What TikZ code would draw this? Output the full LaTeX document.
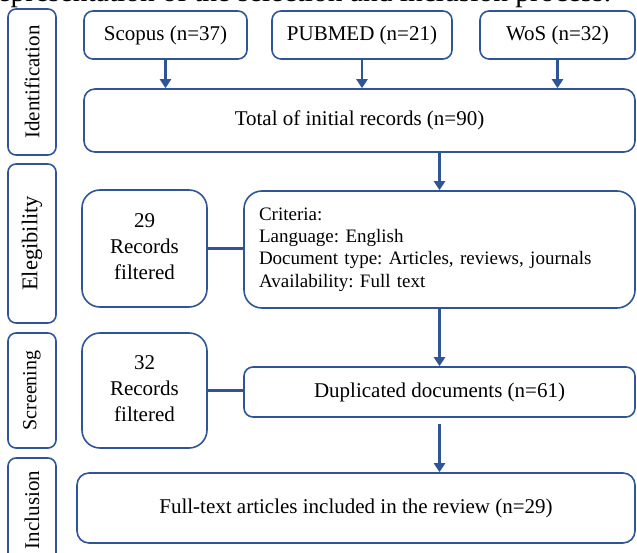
\documentclass[tikz,border=0pt]{standalone}
\usepackage{fontspec}
\setmainfont{Liberation Serif}
\usetikzlibrary{arrows.meta}
\definecolor{prismablue}{RGB}{47,85,151}
\frenchspacing

\begin{document}
\begin{tikzpicture}[x=1pt,y=1pt]
        \tikzstyle{every node}=[rectangle, rounded corners=9pt, draw=prismablue, line width=1.6pt, inner sep=0pt, font=\fontsize{21}{26}\selectfont, text=black]
        \tikzstyle{stage}=[rounded corners=8pt, minimum height=48pt, rotate=90]
        \tikzstyle{edge}=[prismablue, line width=2.4pt, -{Triangle[length=9pt,width=11pt]}]
        \tikzstyle{link}=[prismablue, line width=2.4pt]

        \useasboundingbox (0,0) rectangle (637,552);
        \clip (0,0) rectangle (637,552);

        % caption cut by the frame
        \node[draw=none, anchor=base east, font=\fontsize{29.5}{30}\selectfont] (caption) at (612,550) {representation of the selection and inclusion process.};

        \node[stage, minimum width=146pt] (ident)  at (32,470)   {Identification};
        \node[stage, minimum width=159pt, font=\fontsize{22.5}{26}\selectfont] (elig) at (32,308.5) {Elegibility};
        \node[stage, minimum width=115pt, font=\fontsize{20}{26}\selectfont] (screen) at (32,161.5) {Screening};
        \node[stage, minimum width=104pt] (incl)   at (32,42)    {Inclusion};

        \node[minimum width=163pt, minimum height=48pt] (scopus) at (165.5,517) {Scopus (n=37)};
        \node[minimum width=180pt, minimum height=48pt] (pubmed) at (362,517)   {PUBMED (n=21)};
        \node[minimum width=155pt, minimum height=48pt] (wos)    at (557.5,517) {WoS (n=32)};
        \node[minimum width=551pt, minimum height=63pt, rounded corners=11pt] (total) at (359.5,431.5) {Total of initial records (n=90)};

        \node[minimum width=125pt, minimum height=117pt, rounded corners=18pt] (rec29) at (144.5,303.5) {\begin{tabular}{c} 29 \\ Records \\ filtered \end{tabular}};
        \node[minimum width=391pt, minimum height=117pt, rounded corners=18pt, inner xsep=15pt, text width=361pt, align=left, font=\fontsize{19}{22.3}\selectfont] (crit) at (439.5,302.5) {Criteria:\\ Language: English\\ Document type: Articles, reviews, journals\\ Availability: Full text};

        \node[minimum width=125pt, minimum height=115pt, rounded corners=18pt] (rec32) at (144.5,161.5) {\begin{tabular}{c} 32 \\ Records \\ filtered \end{tabular}};
        \node[minimum width=391pt, minimum height=50pt] (dup) at (439.5,160) {Duplicated documents (n=61)};

        \node[minimum width=558pt, minimum height=70pt, rounded corners=12pt] (full) at (356,44) {Full-text articles included in the review (n=29)};

        \draw[edge] (scopus) -- (scopus |- total.north);
        \draw[edge] (pubmed) -- (pubmed |- total.north);
        \draw[edge] (wos) -- (wos |- total.north);
        \draw[edge] (crit |- total.south) -- (crit);
        \draw[edge] (crit) -- (dup);
        \draw[edge, shorten <=6pt] (dup) -- (dup |- full.north);

        \draw[link] (rec29.east) -- (rec29.east -| crit.west);
        \draw[link] (rec32.east) -- (rec32.east -| dup.west);
    \end{tikzpicture}
\end{document}
